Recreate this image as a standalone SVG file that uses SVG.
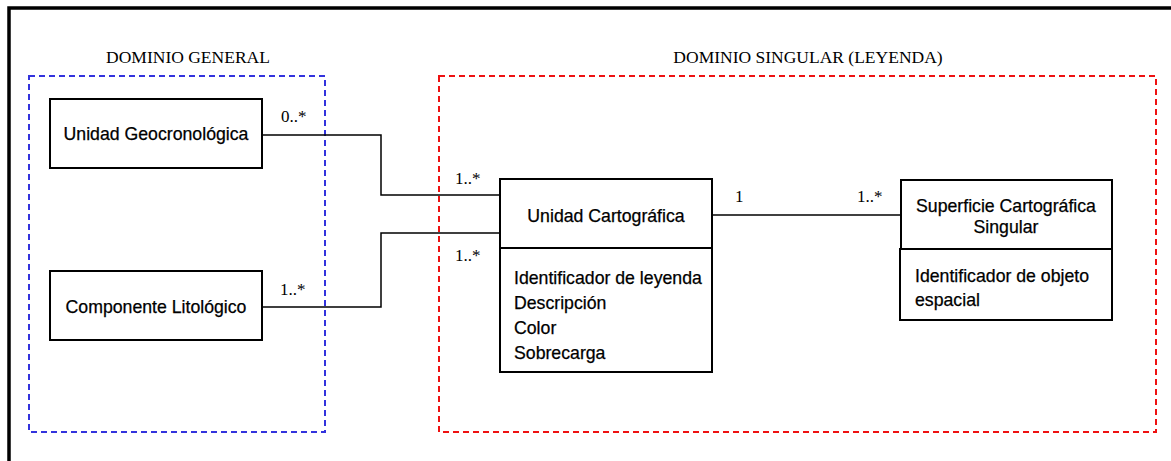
<svg xmlns="http://www.w3.org/2000/svg" width="1171" height="461" viewBox="0 0 1171 461">
  <style>
    .frame { fill: none; stroke: #000; stroke-width: 3.5; }
    .box { fill: #fff; stroke: #000; stroke-width: 2; }
    .dom-blue { fill: none; stroke: #3333dd; stroke-width: 2; stroke-dasharray: 6 4; }
    .dom-red { fill: none; stroke: #ee1111; stroke-width: 2; stroke-dasharray: 6 4; }
    .wire { fill: none; stroke: #000; stroke-width: 1.5; }
    .title { font-family: "Liberation Serif", "Times New Roman", serif; font-size: 17.5px; fill: #000; }
    .mult { font-family: "Liberation Serif", "Times New Roman", serif; font-size: 17px; fill: #000; }
    .name { font-family: "Liberation Sans", Arial, sans-serif; font-size: 17.7px; fill: #000; stroke: #000; stroke-width: 0.25; }
  </style>
  <rect width="1171" height="461" fill="#fff"/>
  <!-- outer frame -->
  <path class="frame" d="M9,470 V8 H1180"/>

  <!-- domain boundaries -->
  <g id="dominio-general">
    <rect class="dom-blue" x="29" y="76" width="296" height="356"/>
    <text class="title" x="188" y="63" text-anchor="middle">DOMINIO GENERAL</text>
  </g>
  <g id="dominio-singular">
    <rect class="dom-red" x="439" y="76" width="717" height="356"/>
    <text class="title" x="808" y="63" text-anchor="middle">DOMINIO SINGULAR (LEYENDA)</text>
  </g>

  <!-- associations -->
  <g id="connectors">
    <path class="wire" d="M262,135 H381 V195 H500"/>
    <path class="wire" d="M262,307 H381 V233 H500"/>
    <path class="wire" d="M712,215 H900"/>
    <text class="mult" x="281" y="122">0..*</text>
    <text class="mult" x="280" y="295">1..*</text>
    <text class="mult" x="455" y="184">1..*</text>
    <text class="mult" x="455" y="261">1..*</text>
    <text class="mult" x="735" y="202">1</text>
    <text class="mult" x="857" y="202">1..*</text>
  </g>

  <g id="unidad-geocronologica">
    <rect class="box" x="50" y="99" width="212" height="69"/>
    <text class="name" x="156" y="140" text-anchor="middle">Unidad Geocronológica</text>
  </g>

  <g id="componente-litologico">
    <rect class="box" x="50" y="271" width="212" height="69"/>
    <text class="name" x="156" y="313" text-anchor="middle">Componente Litológico</text>
  </g>

  <g id="unidad-cartografica">
    <rect class="box" x="500" y="179" width="212" height="69"/>
    <text class="name" x="606" y="222" text-anchor="middle">Unidad Cartográfica</text>
    <rect class="box" x="500" y="248" width="212" height="124"/>
    <text class="name" x="514" y="284">Identificador de leyenda</text>
    <text class="name" x="514" y="309">Descripción</text>
    <text class="name" x="514" y="334">Color</text>
    <text class="name" x="514" y="359">Sobrecarga</text>
  </g>

  <g id="superficie-cartografica">
    <rect class="box" x="901" y="180" width="211" height="69"/>
    <text class="name" x="1006" y="212" text-anchor="middle">Superficie Cartográfica</text>
    <text class="name" x="1006" y="233" text-anchor="middle">Singular</text>
    <rect class="box" x="900" y="249" width="212" height="71"/>
    <text class="name" x="915" y="282">Identificador de objeto</text>
    <text class="name" x="915" y="306">espacial</text>
  </g>
</svg>
